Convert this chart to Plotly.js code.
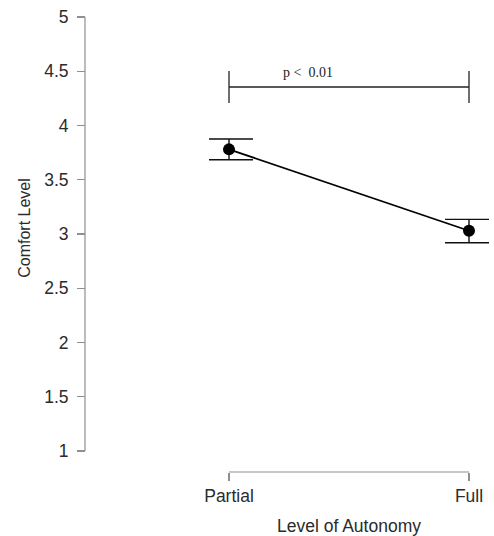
<!DOCTYPE html>
<html>
<head>
<meta charset="utf-8">
<script src="https://cdn.plot.ly/plotly-3.0.1.min.js"></script>
<style>html,body{margin:0;padding:0;background:#fff;}#chart{width:494px;height:536px;}</style>
</head>
<body>
<div id="chart"></div>
<script>
// ---- data ----
const categories = ["Partial", "Full"];
const comfortMeans = [3.78, 3.03];
const errorsUp = [0.095, 0.105];
const errorsDown = [0.095, 0.11];
const yTickVals = [1, 1.5, 2, 2.5, 3, 3.5, 4, 4.5, 5];
const yTickText = ["1", "1.5", "2", "2.5", "3", "3.5", "4", "4.5", "5"];
const sigLabel = "p <  0.01";
const sigLevel = 4.355;
const sigTickHalf = 0.148;

const axisGray = "#8f8f8f";
const textCol = "#2b2b2b";

const trace = {
  x: categories,
  y: comfortMeans,
  type: "scatter",
  mode: "lines+markers",
  line: {color: "#000", width: 1.8},
  marker: {color: "#000", size: 12},
  error_y: {type: "data", symmetric: false, array: errorsUp, arrayminus: errorsDown,
            color: "#111", thickness: 1.4, width: 24},
  cliponaxis: false,
  hoverinfo: "skip",
  showlegend: false
};

const shapes = [
  {type: "line", xref: "paper", yref: "y", x0: 0, x1: 0, y0: yTickVals[0], y1: yTickVals[yTickVals.length - 1],
   line: {color: axisGray, width: 1.2}},
  {type: "line", xref: "x", yref: "paper", x0: 0, x1: categories.length - 1, y0: 0, y1: 0,
   line: {color: axisGray, width: 1.2}},
  {type: "line", xref: "x", yref: "y", x0: 0, x1: categories.length - 1, y0: sigLevel, y1: sigLevel,
   line: {color: "#222", width: 1.3}},
  {type: "line", xref: "x", yref: "y", x0: 0, x1: 0, y0: sigLevel - sigTickHalf, y1: sigLevel + sigTickHalf,
   line: {color: "#222", width: 1.3}},
  {type: "line", xref: "x", yref: "y", x0: categories.length - 1, x1: categories.length - 1,
   y0: sigLevel - sigTickHalf, y1: sigLevel + sigTickHalf,
   line: {color: "#222", width: 1.3}}
];

const layout = {
  width: 494, height: 536,
  margin: {l: 85, r: 5, t: 5, b: 64},
  paper_bgcolor: "#fff", plot_bgcolor: "#fff",
  font: {family: "Liberation Sans, Arial, sans-serif", size: 17.5, color: textCol},
  xaxis: {
    type: "category",
    domain: [124 / 404, 1],
    range: [-20 / 240, 1 + 20 / 240],
    anchor: "free", position: 0,
    showline: false, showgrid: false, zeroline: false,
    ticks: "outside", ticklen: 8, tickwidth: 1.2, tickcolor: axisGray,
    tickfont: {size: 17.5, color: textCol},
    title: {text: "Level of Autonomy", font: {size: 17.5, color: textCol}, standoff: 15},
    automargin: false
  },
  yaxis: {
    domain: [21 / 467, 1],
    range: [1, 1 + 446 / 108.5],
    anchor: "free", position: 0,
    showline: false, showgrid: false, zeroline: false,
    tickvals: yTickVals, ticktext: yTickText,
    ticks: "outside", ticklen: 8, tickwidth: 1.2, tickcolor: axisGray,
    tickfont: {size: 17.5, color: textCol},
    ticklabelstandoff: 5,
    title: {text: "Comfort Level", font: {size: 16, color: textCol}, standoff: 8},
    automargin: false
  },
  shapes: shapes,
  annotations: [{
    x: 0.33, y: sigLevel, xref: "x", yref: "y",
    text: sigLabel, showarrow: false, yanchor: "bottom", yshift: 5,
    font: {family: "Liberation Serif, Times New Roman, serif", size: 14, color: "#222"}
  }]
};

Plotly.newPlot("chart", [trace], layout, {displayModeBar: false, staticPlot: true});
</script>
</body>
</html>
